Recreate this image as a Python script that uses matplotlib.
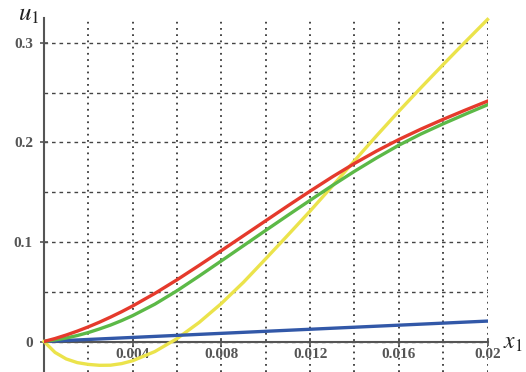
import matplotlib.pyplot as plt
from matplotlib.ticker import MultipleLocator

plt.rcParams['mathtext.fontset'] = 'stix'

# x positions
x = [0, 0.0005, 0.001, 0.0015, 0.002, 0.0025, 0.003, 0.0035, 0.004, 0.005,
     0.006, 0.007, 0.008, 0.009, 0.010, 0.011, 0.012, 0.013, 0.014, 0.015,
     0.016, 0.017, 0.018, 0.019, 0.020]

red = [0, 0.0030, 0.0065, 0.0104, 0.0147, 0.0194, 0.0245, 0.0299, 0.0357, 0.0483,
       0.0620, 0.0765, 0.0913, 0.1063, 0.1213, 0.1363, 0.1510, 0.1653, 0.1788, 0.1913,
       0.2028, 0.2133, 0.2231, 0.2324, 0.2414]

green = [0, 0.0016, 0.0035, 0.0060, 0.0090, 0.0126, 0.0165, 0.0210, 0.0260, 0.0375,
         0.0510, 0.0658, 0.0810, 0.0963, 0.1116, 0.1268, 0.1418, 0.1566, 0.1709, 0.1844,
         0.1971, 0.2084, 0.2186, 0.2283, 0.2377]

yellow = [0, -0.0110, -0.0175, -0.0212, -0.0230, -0.0239, -0.0238, -0.0222, -0.0193, -0.0101,
          0.0029, 0.0192, 0.0382, 0.0596, 0.0831, 0.1069, 0.1310, 0.1560, 0.1815, 0.2067,
          0.2312, 0.2549, 0.2781, 0.3009, 0.3234]

blue_x = [0, 0.02]
blue = [0, 0.0205]

xticks = [0.004, 0.008, 0.012, 0.016, 0.02]
xtick_labels = ['0.004', '0.008', '0.012', '0.016', '0.02']
yticks = [0, 0.1, 0.2, 0.3]
ytick_labels = ['0', '0.1', '0.2', '0.3']

fig = plt.figure(figsize=(5.26, 3.72), dpi=100)
ax = fig.add_axes([44 / 526, -0.001, 443.5 / 526, 354 / 372])

ax.set_xlim(0, 0.02)
ax.set_ylim(-0.031, 0.3245)

# grid: dotted verticals every 0.002, dashed horizontals every 0.05
ax.xaxis.set_minor_locator(MultipleLocator(0.002))
ax.yaxis.set_minor_locator(MultipleLocator(0.05))
ax.grid(which='both', axis='x', color='#444444', linestyle=(0, (0.9, 2.3)), linewidth=1.4)
ax.grid(which='both', axis='y', color='#444444', linestyle=(0, (2.6, 2.8)), linewidth=1.0)
ax.tick_params(which='minor', length=0)

ax.plot(x, yellow, color='#ebe34b', lw=2.4, zorder=3, clip_on=False)
ax.plot(blue_x, blue, color='#3258a8', lw=2.4, zorder=3)
ax.plot(x, green, color='#5cb947', lw=2.4, zorder=4)
ax.plot(x, red, color='#e53a2c', lw=2.4, zorder=5)

# axes through the origin
for s in ['top', 'right']:
    ax.spines[s].set_visible(False)
ax.spines['bottom'].set_position(('data', 0))
ax.spines['left'].set_color('#555555')
ax.spines['bottom'].set_color('#555555')
ax.spines['left'].set_linewidth(1.5)
ax.spines['bottom'].set_linewidth(1.5)

tick_font = dict(family='Liberation Serif', weight='bold', size=11, color='#555555')
ax.set_xticks(xticks)
ax.set_xticklabels(xtick_labels, **tick_font)
ax.set_yticks(yticks)
ax.set_yticklabels(ytick_labels, **tick_font)
ax.tick_params(which='major', direction='inout', length=6, width=1.2, color='#555555')
ax.tick_params(axis='x', pad=1.5)
ax.tick_params(axis='y', pad=5)

fig.text(29 / 526, 1 - 14 / 372, r'$u_1$', fontsize=18, ha='center', va='center', color='#222222')
fig.text(513 / 526, 1 - 342 / 372, r'$x_1$', fontsize=17, ha='center', va='center', color='#222222')

fig.savefig('out.png', dpi=100)
